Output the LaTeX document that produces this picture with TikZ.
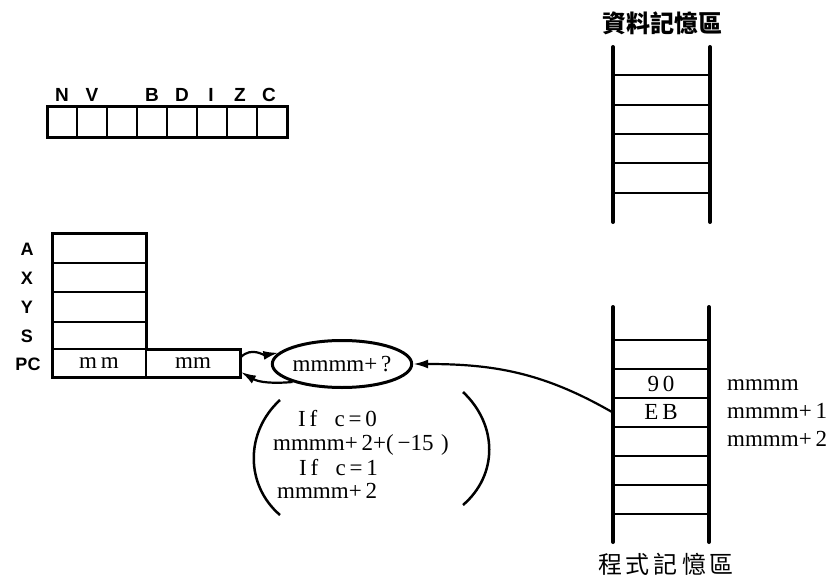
\documentclass[tikz,border=0pt]{standalone}
\usepackage{fontspec}
\setmainfont{Liberation Serif}
\setsansfont{Liberation Sans}
\newfontfamily\cjk{Noto Sans CJK TC}
\usetikzlibrary{arrows.meta,shapes.geometric}
\begin{document}
\begin{tikzpicture}[x=1pt,y=-1pt,
  thickline/.style={line width=3pt},
  thinline/.style={line width=2pt},
  post/.style={line width=4pt,line cap=round},
  rung/.style={line width=2.2pt},
  flaglbl/.style={font=\sffamily\bfseries\fontsize{19}{19}\selectfont,inner sep=0pt},
  reglbl/.style={font=\sffamily\bfseries\fontsize{18}{18}\selectfont,inner sep=0pt},
  serif/.style={font=\fontsize{23}{23}\selectfont,inner sep=0pt},
  cjktitle/.style={font=\cjk\fontsize{24}{24}\selectfont,inner sep=0pt},
  pccell/.style={draw,thinline,minimum width=94pt,minimum height=28pt,inner sep=0pt,font=\fontsize{23}{23}\selectfont},
  memcell/.style={minimum width=96pt,minimum height=29pt,inner sep=0pt,font=\fontsize{23}{23}\selectfont},
  arr/.style={line width=2.2pt,-{Latex[length=15pt,width=9pt]}},
  paren/.style={line width=2.5pt}]
\useasboundingbox (0,0) rectangle (830,575);

% ---- flag register ----
\foreach \i in {1,...,7}{\draw[thinline] (47+30*\i,107) -- (47+30*\i,138);}
\draw[thickline] (47,107) rectangle (287,138);
\node[flaglbl] (fN) at (62,95) {N};
\node[flaglbl] (fV) at (92,95) {V};
\node[flaglbl] (fB) at (152,95) {B};
\node[flaglbl] (fD) at (182,95) {D};
\node[flaglbl] (fI) at (211,95) {I};
\node[flaglbl] (fZ) at (240,95) {Z};
\node[flaglbl] (fC) at (269,95) {C};

% ---- registers ----
\node[pccell] (pcl) at (99,363) {m\,m};
\node[pccell] (pcr) at (193,363) {mm};
\foreach \y in {263,292,322}{\draw[thinline] (52,\y) -- (146,\y);}
\draw[line width=2.4pt] (52,349) -- (146,349);
\draw[thickline] (52,377) -- (52,233) -- (146,233) -- (146,349) -- (240,349) -- (240,377) -- cycle;
\node[reglbl] (lA) at (27,249) {A};
\node[reglbl] (lX) at (27,278) {X};
\node[reglbl] (lY) at (27,307) {Y};
\node[reglbl] (lS) at (27,336) {S};
\node[reglbl] (lPC) at (28,364) {PC};

% ---- ellipse ----
\node[ellipse,draw,line width=3pt,minimum width=135pt,minimum height=47pt,inner sep=0pt,
      font=\fontsize{23}{23}\selectfont] (ell) at (342,364) {mmmm+\,?};

\draw[arr] ([yshift=6pt]pcr.east) to[out=45,in=190] (ell.170);
\draw[arr] (ell.200) to[out=185,in=-30] ([yshift=-9pt]pcr.east);

% ---- condition text ----
\draw[paren] (280,400) .. controls (245,432) and (245,485) .. (280,515);
\draw[paren] (463,392) .. controls (498,425) and (498,475) .. (463,505);
\node[serif,anchor=west] (t1) at (298,419) {I\,f\enspace\ c\,=\,0};
\node[serif,anchor=west] (t2) at (273,445) {mmmm+\,2+(\,−15\,\,)};
\node[serif,anchor=west] (t3) at (299,468) {I\,f\enspace\ c\,=\,1};
\node[serif,anchor=west] (t4) at (277,491) {mmmm+\,2};

% ---- data memory ----
\node[cjktitle,font=\cjk\bfseries\fontsize{24}{24}\selectfont] (dtitle) at (662,23) {資料記憶區};
\draw[post] (613,47) -- (613,222);
\draw[post] (710,47) -- (710,222);
\foreach \y in {75,105,134,163,193}{\draw[rung] (613,\y) -- (710,\y);}

% ---- program memory ----
\node[cjktitle] (ptitle) at (666,564) {程\,式\,記\,憶\,區};
\draw[post] (613,307) -- (613,542);
\draw[post] (709,307) -- (709,542);
\foreach \y in {340,369,398,427,456,485,514}{\draw[rung] (613,\y) -- (709,\y);}
\node[memcell] (r90) at (661,383.5) {9\,0};
\node[memcell] (rEB) at (661,412.5) {E\,B};
\node[serif,anchor=west] (a0) at (727,385) {mmmm};
\node[serif,anchor=west] (a1) at (727,411) {mmmm+\,1};
\node[serif,anchor=west] (a2) at (727,439) {mmmm+\,2};

\draw[arr] (rEB.west) to[out=150,in=0] (ell.east);
\end{tikzpicture}
\end{document}
